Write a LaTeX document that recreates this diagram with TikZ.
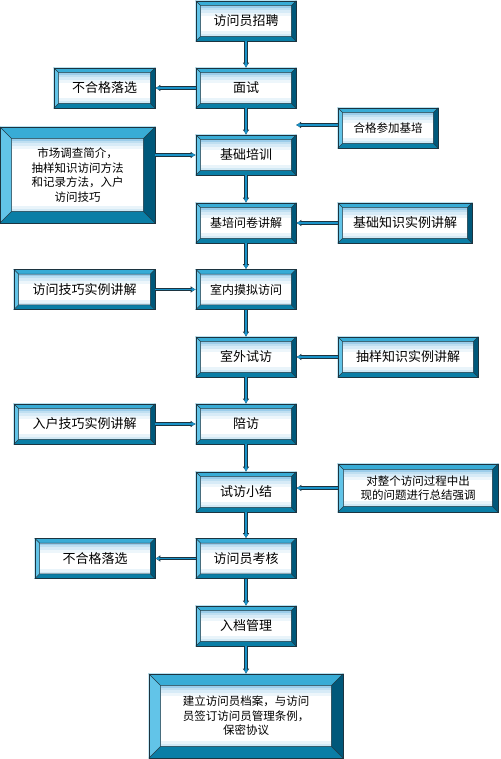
\documentclass[tikz,border=0pt]{standalone}
\usepackage{fontspec}
\usepackage{tikz}
\usetikzlibrary{arrows.meta,positioning,calc,backgrounds}
\newfontfamily\cjk{Noto Sans CJK SC}
\definecolor{edge}{HTML}{1C3440}
\definecolor{bevtop}{HTML}{38ACD6}
\definecolor{bevleft}{HTML}{62C4E8}
\definecolor{bevright}{HTML}{00587A}
\definecolor{bevbot}{HTML}{0A7EA6}
\definecolor{facetop}{HTML}{9CCDEA}
\definecolor{facebot}{HTML}{B4DAEE}
\definecolor{linkblue}{HTML}{1A92C8}

% bevelled frame and banded face behind a named node
\newcommand\bevelfill[2]{%
  \path (#1.south west) coordinate (bsw) (#1.north east) coordinate (bne);
  \path (bsw |- bne) coordinate (bnw) (bne |- bsw) coordinate (bse)
        ($(bsw)+(#2,#2)$) coordinate (isw)
        ($(bne)-(#2,#2)$) coordinate (ine);
  \path (isw |- ine) coordinate (inw) (ine |- isw) coordinate (ise);
  \fill[bevtop] (bnw) -- (bne) -- (ine) -- (inw) -- cycle;
  \fill[bevright] (bne) -- (bse) -- (ise) -- (ine) -- cycle;
  \fill[bevbot] (bse) -- (bsw) -- (isw) -- (ise) -- cycle;
  \fill[bevleft] (bsw) -- (bnw) -- (inw) -- (isw) -- cycle;
  \fill[white] (isw) rectangle (ine);
  \fill[facetop] (inw) rectangle ([yshift=-2pt]ine);
  \fill[facetop!65!white] ([yshift=-2pt]inw) rectangle ([yshift=-4pt]ine);
  \fill[facetop!40!white] ([yshift=-4pt]inw) rectangle ([yshift=-7pt]ine);
  \fill[facetop!18!white] ([yshift=-7pt]inw) rectangle ([yshift=-10pt]ine);
  \fill[facebot!60!white] (isw) rectangle ([yshift=2pt]ise);
  \fill[facebot!30!white] ([yshift=2pt]isw) rectangle ([yshift=5pt]ise);
  \draw[edge, line width=0.5pt] (isw) rectangle (ine)
    (bsw) -- (isw) (bnw) -- (inw) (bne) -- (ine) (bse) -- (ise);
}

\tikzset{
  box/.style={draw=edge, line width=0.6pt, inner sep=0pt, align=center,
    minimum width=100pt, minimum height=40pt,
    font=\cjk\fontsize{13}{15}\selectfont},
  small/.style={font=\cjk\fontsize{11.5}{14.5}\selectfont},
  link/.style={line width=1.8pt, draw=linkblue, -{Latex[length=4pt,width=4.5pt]},
    preaction={draw=edge, line width=3.4pt, -{Latex[length=5pt,width=7pt]}}}
}

\begin{document}
\begin{tikzpicture}[x=1pt, y=-1pt]
  \useasboundingbox (0,0) rectangle (500,759);
  % main column
  \node[box] (recruit) at (246,21) {访问员招聘};
  \node[box] (interview) at (246,88) {面试};
  \node[box] (basic) at (246,155) {基础培训};
  \node[box, font=\cjk\fontsize{12}{14}\selectfont] (paper) at (246,223) {基培问卷讲解};
  \node[box, font=\cjk\fontsize{12}{14}\selectfont] (indoor) at (246,289.5) {室内摸拟访问};
  \node[box] (outdoor) at (246,357) {室外试访};
  \node[box] (escort) at (246,424) {陪访};
  \node[box] (summary) at (246,492) {试访小结};
  \node[box] (assess) at (246,558.5) {访问员考核};
  \node[box] (archive) at (246,626) {入档管理};
  \node[box, small, minimum width=194pt, minimum height=84pt] (final) at (246,716)
    {建立访问员档案，与访问\\员签订访问员管理条例，\\保密协议};
  % side boxes
  \node[box, minimum width=101pt] (fail1) at (104.5,88) {不合格落选};
  \node[box, small] (pass) at (388,128) {合格参加基培};
  \node[box, small, minimum width=155pt, minimum height=96pt] (intro) at (77.5,175)
    {市场调查简介，\\抽样知识访问方法\\和记录方法，入户\\访问技巧};
  \node[box, minimum width=134pt] (knowledge) at (405,223) {基础知识实例讲解};
  \node[box, minimum width=141pt] (skill) at (84.5,289.5) {访问技巧实例讲解};
  \node[box, minimum width=140pt] (sampling) at (408,357) {抽样知识实例讲解};
  \node[box, minimum width=141pt] (home) at (84.5,424) {入户技巧实例讲解};
  \node[box, small, minimum width=160pt, minimum height=48pt] (whole) at (418,488)
    {对整个访问过程中出\\现的问题进行总结强调};
  \node[box, minimum width=120pt] (fail2) at (95,558.5) {不合格落选};
  \coordinate (passend) at (296,125);
  \begin{scope}[on background layer]
    \foreach \n/\w in {recruit/5pt,interview/5pt,basic/5pt,paper/5pt,indoor/5pt,outdoor/5pt,
        escort/5pt,summary/5pt,assess/5pt,archive/5pt,final/12pt,fail1/5pt,pass/5pt,
        intro/12pt,knowledge/5pt,skill/5pt,sampling/5pt,home/5pt,whole/6pt,fail2/5pt}
      {\bevelfill{\n}{\w}}
  \end{scope}
  % connectors
  \foreach \a/\b in {recruit/interview,interview/basic,basic/paper,paper/indoor,indoor/outdoor,
      outdoor/escort,escort/summary,summary/assess,assess/archive,archive/final}
    \draw[link] (\a.south) -- (\b.north);
  \draw[link] (interview.west) -- (fail1.east);
  \draw[link] (pass.west |- passend) -- (passend);
  \draw[link] (basic.west -| intro.east) -- (basic.west);
  \draw[link] (knowledge.west) -- (paper.east);
  \draw[link] (skill.east) -- (indoor.west);
  \draw[link] (sampling.west) -- (outdoor.east);
  \draw[link] (home.east) -- (escort.west);
  \draw[link] (whole.west) -- (whole.west -| summary.east);
  \draw[link] (assess.west) -- (fail2.east);
\end{tikzpicture}
\end{document}
